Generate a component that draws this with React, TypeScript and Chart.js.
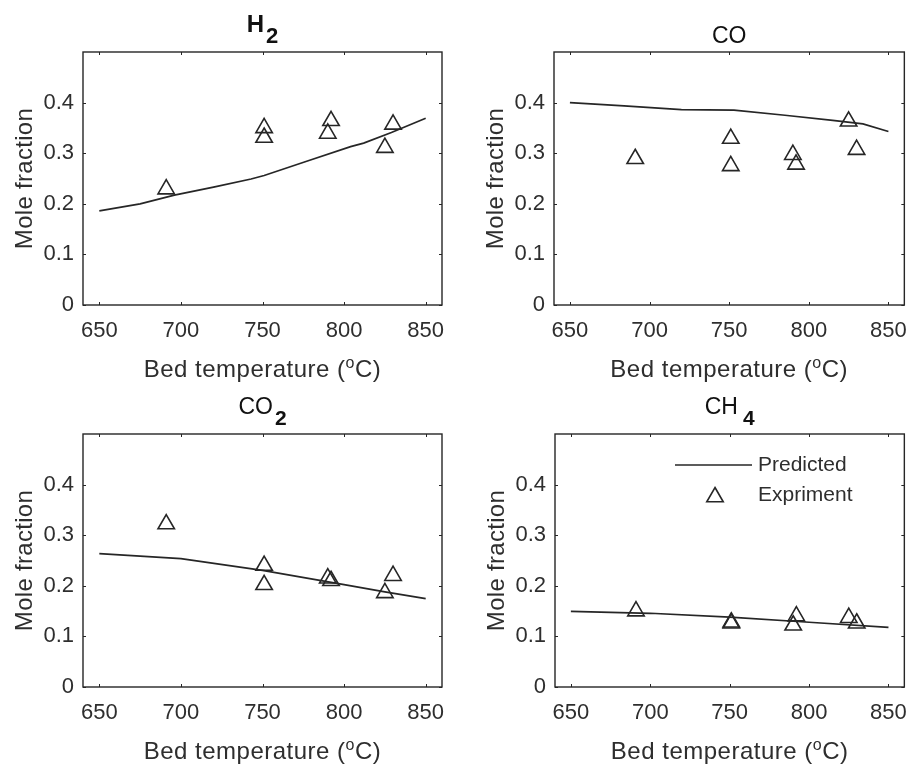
import React, { useEffect, useRef } from 'react';
import { Chart, registerables } from 'chart.js';

Chart.register(...registerables);

const FONT = '"Liberation Sans", Arial, Helvetica, sans-serif';
const INK = '#262626';
const TEXT = '#2e2e2e';

// Axis ticks
const xTicks = [650, 700, 750, 800, 850];
const yTicks = [0, 0.1, 0.2, 0.3, 0.4];
const xMin = 640;
const xMax = 860;
const yMin = 0;
const yMax = 0.5;

// Experiment temperatures (shared by all panels)
const expTemps = [691, 751, 751, 790, 792, 825, 830];

// H2
const predTempsH2 = [650, 675, 696, 720, 743, 751, 778, 804, 812, 829, 850];
const predH2 = [0.186, 0.2, 0.217, 0.233, 0.249, 0.256, 0.285, 0.313, 0.32, 0.341, 0.369];
const expH2 = [0.229, 0.35, 0.331, 0.339, 0.364, 0.311, 0.357];

// CO
const predTempsCO = [650, 684, 720, 753, 785, 815, 834, 850];
const predCO = [0.4, 0.3935, 0.386, 0.385, 0.375, 0.365, 0.358, 0.343];
const expCO = [0.289, 0.329, 0.275, 0.297, 0.278, 0.363, 0.307];

// CO2
const predTempsCO2 = [650, 700, 750, 800, 825, 850];
const predCO2 = [0.2635, 0.2536, 0.2306, 0.2022, 0.188, 0.1746];
const expCO2 = [0.322, 0.24, 0.202, 0.215, 0.21, 0.186, 0.22];

// CH4
const predTempsCH4 = [650, 700, 750, 800, 850];
const predCH4 = [0.1496, 0.1457, 0.138, 0.128, 0.118];
const expCH4 = [0.15, 0.126, 0.128, 0.122, 0.14, 0.137, 0.126];

const seriesLabels = ['Predicted', 'Expriment'];
const xLabelParts = ['Bed temperature (', 'o', 'C)'];
const yLabel = 'Mole fraction';

type Part = { t: string; size: number; dy: number; bold?: boolean; gap?: number };

type Panel = {
  key: string;
  title: Part[];
  titleRaise: number;
  predT: number[];
  predV: number[];
  expV: number[];
  left: number;
  top: number;
  w: number;
  h: number;
  padTop: number;
  padRight: number;
  yWidth: number;
  xHeight: number;
  legend: boolean;
};

const panels: Panel[] = [
  {
    key: 'h2',
    title: [
      { t: 'H', size: 24, dy: 0, bold: true },
      { t: '2', size: 22, dy: 11, bold: true, gap: 2 },
    ],
    titleRaise: 20,
    predT: predTempsH2,
    predV: predH2,
    expV: expH2,
    left: 0, top: 0, w: 460, h: 384,
    padTop: 52, padRight: 18, yWidth: 83, xHeight: 79,
    legend: false,
  },
  {
    key: 'co',
    title: [{ t: 'CO', size: 23, dy: 0 }],
    titleRaise: 9,
    predT: predTempsCO,
    predV: predCO,
    expV: expCO,
    left: 460, top: 0, w: 460, h: 384,
    padTop: 52, padRight: 5, yWidth: 94, xHeight: 79,
    legend: false,
  },
  {
    key: 'co2',
    title: [
      { t: 'CO', size: 23, dy: 0 },
      { t: '2', size: 21, dy: 11, bold: true, gap: 2 },
    ],
    titleRaise: 20,
    predT: predTempsCO2,
    predV: predCO2,
    expV: expCO2,
    left: 0, top: 384, w: 460, h: 383,
    padTop: 50, padRight: 18, yWidth: 83, xHeight: 80,
    legend: false,
  },
  {
    key: 'ch4',
    title: [
      { t: 'CH', size: 23, dy: 0 },
      { t: '4', size: 21, dy: 11, bold: true, gap: 5 },
    ],
    titleRaise: 20,
    predT: predTempsCH4,
    predV: predCH4,
    expV: expCH4,
    left: 460, top: 384, w: 460, h: 383,
    padTop: 50, padRight: 4, yWidth: 95, xHeight: 80,
    legend: true,
  },
];

function fontOf(p: Part) {
  return `${p.bold ? 'bold ' : ''}${p.size}px ${FONT}`;
}

function drawRich(ctx: CanvasRenderingContext2D, parts: Part[], cx: number, baseline: number, spacing: number) {
  ctx.letterSpacing = `${spacing}px`;
  let total = 0;
  const widths = parts.map((p) => {
    ctx.font = fontOf(p);
    const w = ctx.measureText(p.t).width + (p.gap || 0);
    total += w;
    return w;
  });
  let x = cx - total / 2;
  ctx.textAlign = 'left';
  ctx.textBaseline = 'alphabetic';
  parts.forEach((p, i) => {
    ctx.font = fontOf(p);
    ctx.fillText(p.t, x + (p.gap || 0), baseline + p.dy);
    x += widths[i];
  });
  ctx.letterSpacing = '0px';
}

function triangle(ctx: CanvasRenderingContext2D, x: number, y: number, r: number) {
  ctx.beginPath();
  let rad = 0;
  ctx.moveTo(x + Math.sin(rad) * r, y - Math.cos(rad) * r);
  rad += (2 * Math.PI) / 3;
  ctx.lineTo(x + Math.sin(rad) * r, y - Math.cos(rad) * r);
  rad += (2 * Math.PI) / 3;
  ctx.lineTo(x + Math.sin(rad) * r, y - Math.cos(rad) * r);
  ctx.closePath();
  ctx.stroke();
}

const MARK_R = 9.5;

function PanelChart({ panel }: { panel: Panel }) {
  const ref = useRef<HTMLCanvasElement>(null);

  useEffect(() => {
    const canvas = ref.current;
    if (!canvas) return;

    const decor = {
      id: 'decor' + panel.key,
      afterDraw(chart: any) {
        const { ctx, chartArea: a } = chart;
        const xs = chart.scales.x;
        const ys = chart.scales.y;
        ctx.save();
        // inner tick marks on all four sides
        ctx.strokeStyle = INK;
        ctx.lineWidth = 1;
        ctx.beginPath();
        xTicks.forEach((v) => {
          const px = Math.round(xs.getPixelForValue(v)) + 0.5;
          ctx.moveTo(px, a.bottom);
          ctx.lineTo(px, a.bottom - 3);
          ctx.moveTo(px, a.top);
          ctx.lineTo(px, a.top + 3);
        });
        yTicks.forEach((v) => {
          const py = Math.round(ys.getPixelForValue(v)) + 0.5;
          ctx.moveTo(a.left, py);
          ctx.lineTo(a.left + 3, py);
          ctx.moveTo(a.right, py);
          ctx.lineTo(a.right - 3, py);
        });
        ctx.stroke();
        // box
        ctx.lineWidth = 1.4;
        ctx.strokeRect(a.left, a.top, a.right - a.left, a.bottom - a.top);

        ctx.fillStyle = '#111';
        const cx = (a.left + a.right) / 2;
        drawRich(ctx, panel.title, cx, a.top - panel.titleRaise, 0);

        ctx.fillStyle = TEXT;
        drawRich(
          ctx,
          [
            { t: xLabelParts[0], size: 24, dy: 0 },
            { t: xLabelParts[1], size: 16, dy: -9 },
            { t: xLabelParts[2], size: 24, dy: 0 },
          ],
          cx,
          a.bottom + 72,
          0.5
        );

        ctx.save();
        ctx.translate(a.left - 51, (a.top + a.bottom) / 2);
        ctx.rotate(-Math.PI / 2);
        ctx.font = `24px ${FONT}`;
        ctx.letterSpacing = '0.3px';
        ctx.textAlign = 'center';
        ctx.textBaseline = 'alphabetic';
        ctx.fillText(yLabel, 0, 0);
        ctx.restore();

        if (panel.legend) {
          ctx.strokeStyle = INK;
          ctx.lineWidth = 1.6;
          ctx.beginPath();
          ctx.moveTo(a.left + 120, a.top + 31);
          ctx.lineTo(a.left + 197, a.top + 31);
          ctx.stroke();
          ctx.lineWidth = 1.6;
          triangle(ctx, a.left + 160, a.top + 63, MARK_R);
          ctx.fillStyle = TEXT;
          ctx.font = `21px ${FONT}`;
          ctx.letterSpacing = '0px';
          ctx.textAlign = 'left';
          ctx.textBaseline = 'middle';
          ctx.fillText(seriesLabels[0], a.left + 203, a.top + 31);
          ctx.fillText(seriesLabels[1], a.left + 203, a.top + 61);
        }
        ctx.restore();
      },
    };

    const chart = new Chart(canvas, {
      type: 'scatter',
      data: {
        datasets: [
          {
            type: 'line',
            label: seriesLabels[0],
            data: panel.predT.map((t, i) => ({ x: t, y: panel.predV[i] })),
            borderColor: INK,
            borderWidth: 1.7,
            pointRadius: 0,
            fill: false,
            tension: 0,
          },
          {
            type: 'scatter',
            label: seriesLabels[1],
            data: expTemps.map((t, i) => ({ x: t, y: panel.expV[i] })),
            pointStyle: 'triangle',
            pointRadius: MARK_R,
            borderColor: INK,
            borderWidth: 1.6,
            backgroundColor: 'rgba(0,0,0,0)',
            showLine: false,
          },
        ],
      } as any,
      options: {
        animation: false,
        responsive: false,
        devicePixelRatio: 1,
        layout: {
          autoPadding: false,
          padding: { top: panel.padTop, right: panel.padRight, left: 0, bottom: 0 },
        },
        plugins: {
          legend: { display: false },
          tooltip: { enabled: false },
          title: { display: false },
        },
        scales: {
          x: {
            type: 'linear',
            min: xMin,
            max: xMax,
            grid: { display: false, drawTicks: false },
            border: { display: false },
            afterBuildTicks: (s: any) => {
              s.ticks = xTicks.map((v) => ({ value: v }));
            },
            afterFit: (s: any) => {
              s.height = panel.xHeight;
            },
            ticks: {
              color: TEXT,
              padding: 13,
              maxRotation: 0,
              autoSkip: false,
              font: { family: FONT, size: 22 },
            },
          },
          y: {
            type: 'linear',
            min: yMin,
            max: yMax,
            grid: { display: false, drawTicks: false },
            border: { display: false },
            afterBuildTicks: (s: any) => {
              s.ticks = yTicks.map((v) => ({ value: v }));
            },
            afterFit: (s: any) => {
              s.width = panel.yWidth;
            },
            ticks: {
              color: TEXT,
              padding: 9,
              autoSkip: false,
              font: { family: FONT, size: 22 },
            },
          },
        },
      } as any,
      plugins: [decor],
    });

    return () => chart.destroy();
  }, [panel]);

  return (
    <canvas
      ref={ref}
      width={panel.w}
      height={panel.h}
      style={{ position: 'absolute', left: panel.left, top: panel.top, width: panel.w, height: panel.h }}
    />
  );
}

export default function App() {
  return (
    <div style={{ position: 'absolute', left: 0, top: 0, width: 920, height: 767, background: '#fff', overflow: 'hidden' }}>
      {panels.map((p) => (
        <PanelChart key={p.key} panel={p} />
      ))}
    </div>
  );
}
